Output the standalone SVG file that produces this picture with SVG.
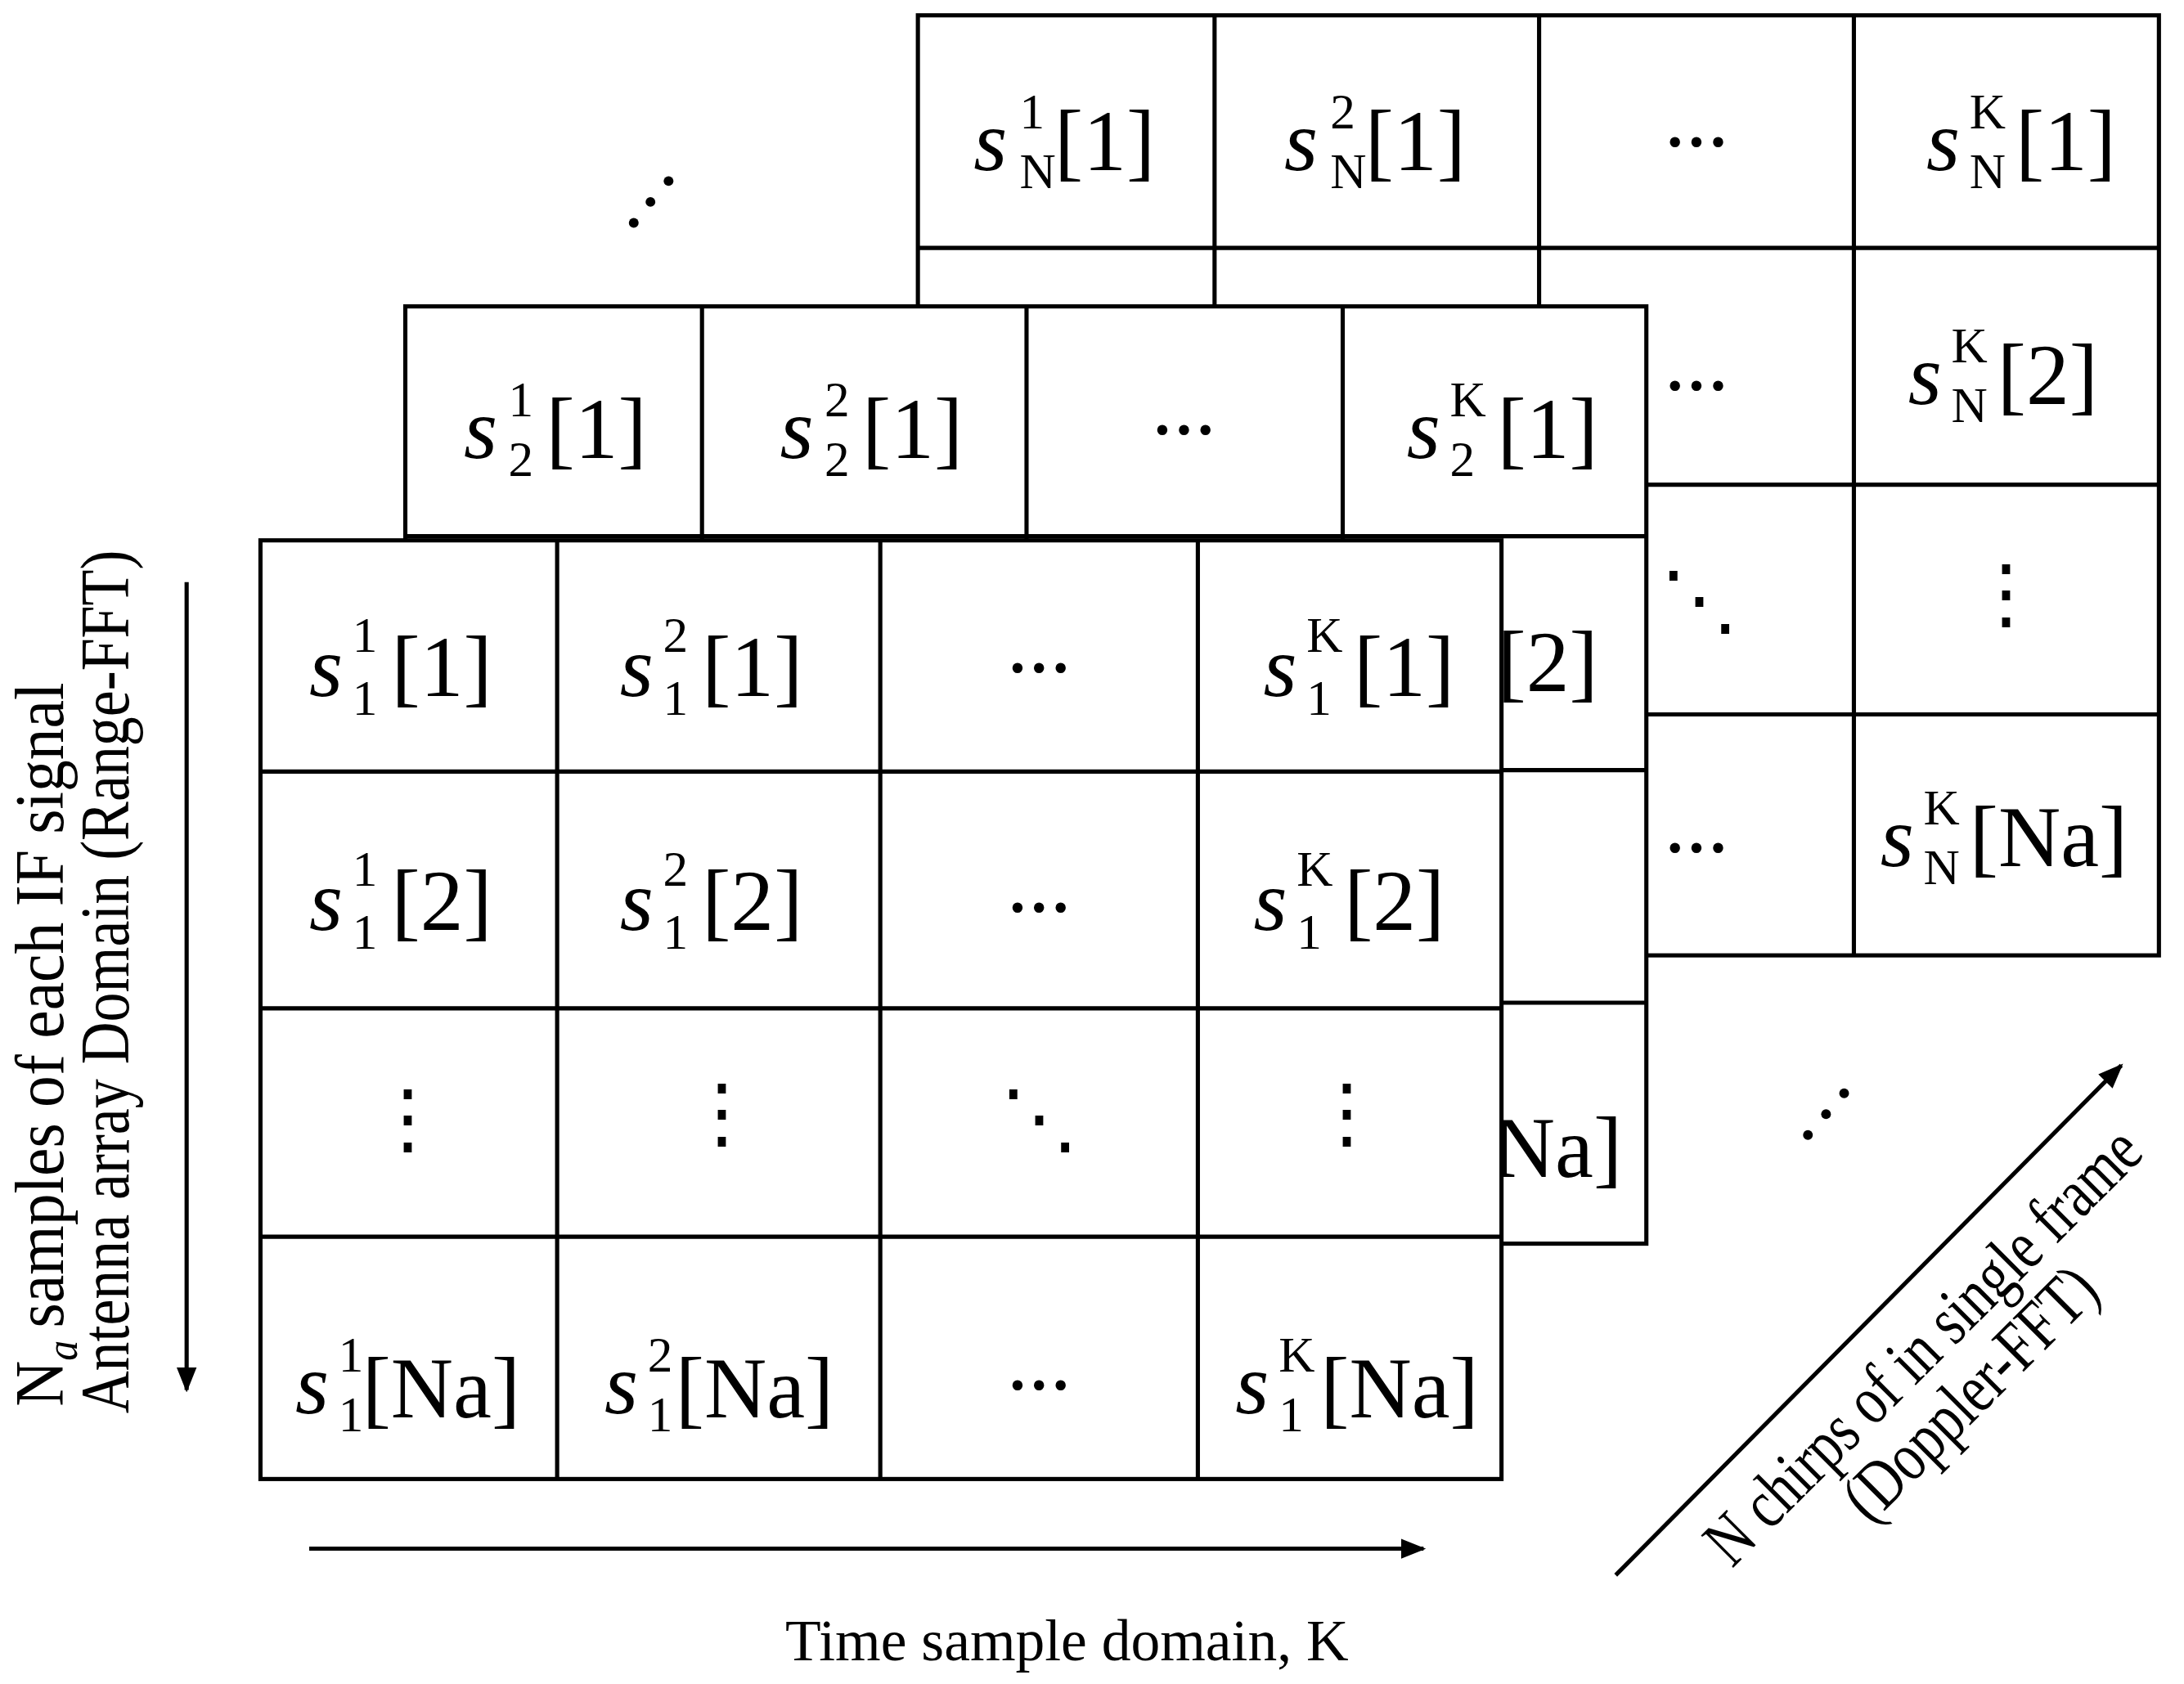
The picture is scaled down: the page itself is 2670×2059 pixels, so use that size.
<svg xmlns="http://www.w3.org/2000/svg" width="2670" height="2059" viewBox="0 0 2670 2059">
<style>
.g{fill:#fff;stroke:#000;stroke-width:3}
.ln{stroke:#000;stroke-width:3;fill:none}
text{font-family:"Liberation Serif",serif;fill:#000}
.s{font-size:62px;font-style:italic}
.b{font-size:62px}
.sc{font-size:36px}
.d{font-size:62px}
.v{font-family:"DejaVu Serif",serif;font-size:56px;text-anchor:middle}
.lab{font-size:50px}
</style>
<defs>
<marker id="ah" viewBox="0 0 10 10" refX="9" refY="5" markerWidth="6" markerHeight="6" orient="auto" markerUnits="strokeWidth"><path d="M0,1 L10,5 L0,9 z" fill="#000"/></marker>
</defs>
<rect width="2670" height="2059" fill="#fff"/>
<g transform="scale(1.7028)">
<g id="gridN">
<rect class="g" x="659" y="11" width="891" height="675"/>
<path class="ln" d="M872 11V686M1105 11V686M1331 11V686M659 178H1550M659 348H1550M659 513H1550"/>
<text class="s" x="699" y="122">s</text><text class="sc" x="732" y="92">1</text><text class="sc" x="732" y="135">N</text><text class="b" x="757" y="122">[1]</text>
<text class="s" x="922" y="122">s</text><text class="sc" x="955" y="92">2</text><text class="sc" x="955" y="135">N</text><text class="b" x="980" y="122">[1]</text>
<text class="d" x="1218" y="105" text-anchor="middle">...</text>
<text class="s" x="1383" y="122">s</text><text class="sc" x="1414" y="92">K</text><text class="sc" x="1414" y="135">N</text><text class="b" x="1447" y="122">[1]</text>
<text class="d" x="1218" y="280" text-anchor="middle">...</text>
<text class="s" x="1370" y="290">s</text><text class="sc" x="1401" y="260">K</text><text class="sc" x="1401" y="303">N</text><text class="b" x="1434" y="290">[2]</text>
<text class="v" x="1220" y="450">⋱</text>
<text class="v" x="1440" y="445">⋮</text>
<text class="d" x="1218" y="612" text-anchor="middle">...</text>
<text class="s" x="1350" y="622">s</text><text class="sc" x="1381" y="592">K</text><text class="sc" x="1381" y="635">N</text><text class="b" x="1414" y="622">[Na]</text>
</g>
<g id="grid2">
<rect class="g" x="291" y="220" width="891" height="673"/>
<path class="ln" d="M504 220V893M737 220V893M964 220V893M291 385H1182M291 553H1182M291 720H1182"/>
<text class="s" x="333" y="329">s</text><text class="sc" x="365" y="299">1</text><text class="sc" x="365" y="342">2</text><text class="b" x="392" y="329">[1]</text>
<text class="s" x="560" y="329">s</text><text class="sc" x="592" y="299">2</text><text class="sc" x="592" y="342">2</text><text class="b" x="619" y="329">[1]</text>
<text class="d" x="850" y="312" text-anchor="middle">...</text>
<text class="s" x="1010" y="329">s</text><text class="sc" x="1041" y="299">K</text><text class="sc" x="1041" y="342">2</text><text class="b" x="1075" y="329">[1]</text>
<text class="s" x="1007" y="496">s</text><text class="sc" x="1038" y="466">K</text><text class="sc" x="1038" y="509">2</text><text class="b" x="1075" y="496">[2]</text>
<text class="s" x="989" y="833">s</text><text class="sc" x="1020" y="803">K</text><text class="sc" x="1020" y="846">2</text><text class="b" x="1051" y="845">[Na]</text>
</g>
<g id="grid1">
<rect class="g" x="187" y="388" width="891" height="674"/>
<path class="ln" d="M400 388V1062M632 388V1062M860 388V1062M187 554H1078M187 724H1078M187 888H1078"/>
<text class="s" x="222" y="500">s</text><text class="sc" x="253" y="468">1</text><text class="sc" x="253" y="513">1</text><text class="b" x="281" y="500">[1]</text>
<text class="s" x="445" y="500">s</text><text class="sc" x="476" y="468">2</text><text class="sc" x="476" y="513">1</text><text class="b" x="504" y="500">[1]</text>
<text class="d" x="746" y="483" text-anchor="middle">...</text>
<text class="s" x="907" y="500">s</text><text class="sc" x="938" y="468">K</text><text class="sc" x="938" y="513">1</text><text class="b" x="972" y="500">[1]</text>
<text class="s" x="222" y="668">s</text><text class="sc" x="253" y="636">1</text><text class="sc" x="253" y="681">1</text><text class="b" x="281" y="668">[2]</text>
<text class="s" x="445" y="668">s</text><text class="sc" x="476" y="636">2</text><text class="sc" x="476" y="681">1</text><text class="b" x="504" y="668">[2]</text>
<text class="d" x="746" y="655" text-anchor="middle">...</text>
<text class="s" x="900" y="668">s</text><text class="sc" x="931" y="636">K</text><text class="sc" x="931" y="681">1</text><text class="b" x="965" y="668">[2]</text>
<text class="v" x="293" y="822">⋮</text>
<text class="v" x="518" y="818">⋮</text>
<text class="v" x="746" y="822">⋱</text>
<text class="v" x="967" y="818">⋮</text>
<text class="s" x="212" y="1015">s</text><text class="sc" x="243" y="985">1</text><text class="sc" x="243" y="1028">1</text><text class="b" x="260" y="1018">[Na]</text>
<text class="s" x="434" y="1015">s</text><text class="sc" x="465" y="985">2</text><text class="sc" x="465" y="1028">1</text><text class="b" x="485" y="1018">[Na]</text>
<text class="d" x="746" y="998" text-anchor="middle">...</text>
<text class="s" x="887" y="1015">s</text><text class="sc" x="918" y="985">K</text><text class="sc" x="918" y="1028">1</text><text class="b" x="948" y="1018">[Na]</text>
</g>
<g id="dots" fill="#000">
<circle cx="455" cy="160" r="3.5"/><circle cx="467" cy="145" r="3.5"/><circle cx="480" cy="130" r="3.5"/>
<circle cx="1298" cy="815" r="3.5"/><circle cx="1311" cy="800" r="3.5"/><circle cx="1324" cy="785" r="3.5"/>
</g>
<g id="connectors">
<line class="ln" x1="134" y1="418" x2="134" y2="998" marker-end="url(#ah)"/>
<line class="ln" x1="222" y1="1112" x2="1022" y2="1112" marker-end="url(#ah)"/>
<line class="ln" x1="1160" y1="1131" x2="1523" y2="765" marker-end="url(#ah)"/>
</g>
<g id="labels">
<text class="lab" transform="translate(45,750) rotate(-90)" text-anchor="middle" textLength="520" lengthAdjust="spacingAndGlyphs">N<tspan font-style="italic" font-size="32" dy="10">a</tspan><tspan dy="-10" dx="10">samples of each IF signal</tspan></text>
<text class="lab" transform="translate(92,705) rotate(-90)" text-anchor="middle" textLength="620" lengthAdjust="spacingAndGlyphs">Antenna array Domain (Range-FFT)</text>
<text x="766" y="1192" text-anchor="middle" font-size="42">Time sample domain, K</text>
<g transform="translate(1392,978) rotate(-45)">
<text class="lab" x="0" y="0" text-anchor="middle" textLength="420" lengthAdjust="spacingAndGlyphs">N chirps of in single frame</text>
<text class="lab" x="0" y="48" text-anchor="middle" textLength="235" lengthAdjust="spacingAndGlyphs">(Doppler-FFT)</text>
</g>
</g>
</g>
</svg>
